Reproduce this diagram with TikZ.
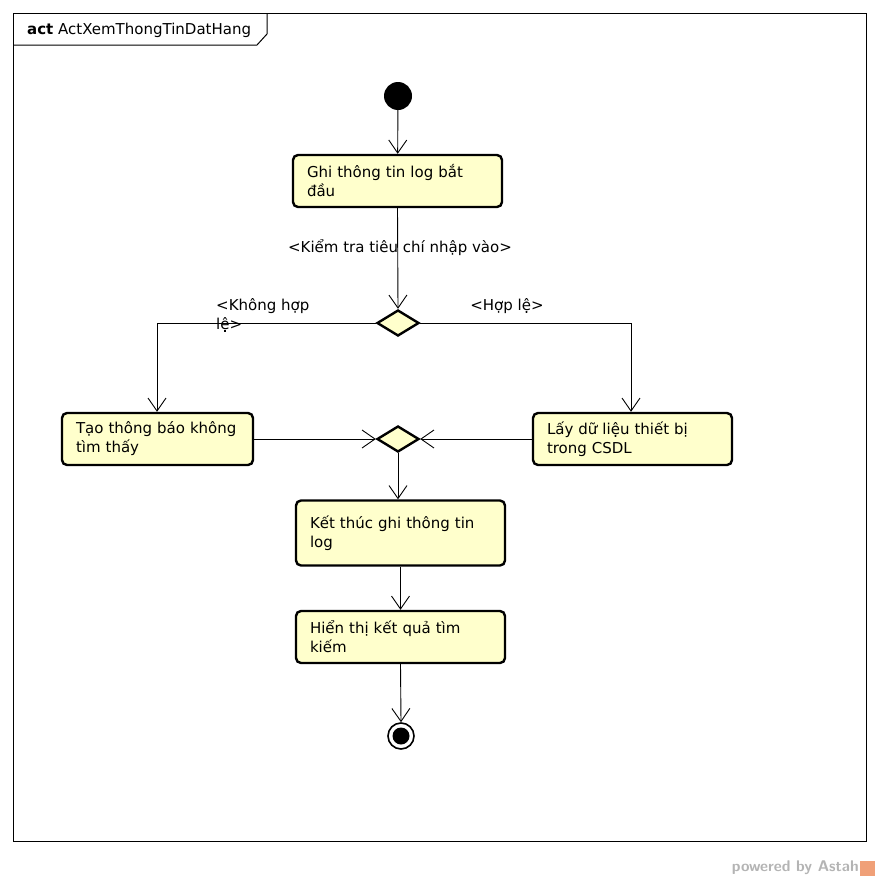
\documentclass[tikz,border=0pt]{standalone}
\usepackage{fontspec}
\setmainfont{DejaVu Sans}
\usetikzlibrary{arrows.meta,shapes.geometric}
\definecolor{actfill}{HTML}{FFFFCC}
\definecolor{astahgray}{HTML}{B4B4B4}
\definecolor{astahorange}{HTML}{F0A078}
\newcommand\diagfont{\fontsize{15}{19}\selectfont}
\tikzset{
  actbox/.style={draw=black, line width=2.4pt, fill=actfill, rounded corners=5pt,
    inner xsep=14pt, inner ysep=0pt, align=left, font=\diagfont},
  decis/.style={draw=black, line width=2.4pt, fill=actfill, diamond, inner sep=0pt,
    minimum width=42pt, minimum height=26pt},
  flow/.style={line width=0.9pt, -{Straight Barb[length=13pt,width=18pt,line width=0.9pt]}},
  lbl/.style={font=\diagfont, inner sep=0pt},
}
\begin{document}
\begin{tikzpicture}[x=1pt,y=-1pt]
\useasboundingbox (0,0) rectangle (880,881);
\fill[white] (0,0) rectangle (880,881);
% frame
\draw[line width=1pt] (13,13) rectangle (866,841);
\draw[line width=1pt] (13,45) -- (257,45) -- (267,34) -- (267,13);
\node[anchor=west, lbl] (title) at (27,30) {\textbf{act} ActXemThongTinDatHang};
% start
\node[circle, fill=black, minimum size=28pt, inner sep=0pt] (start) at (398,96) {};
% boxes
\node[actbox, minimum width=209pt, minimum height=52pt, text width=181pt] (b1) at (397.5,181) {Ghi thông tin log bắt\\đầu};
\node[decis] (d1) at (398,323) {};
\node[actbox, minimum width=191pt, minimum height=52pt, text width=163pt] (b2) at (157.5,439) {Tạo thông báo không\\tìm thấy};
\node[actbox, minimum width=199pt, minimum height=52pt, text width=171pt] (b3) at (632.5,439) {Lấy dữ liệu thiết bị\\trong CSDL};
\node[decis] (d2) at (398,439) {};
\node[actbox, minimum width=209pt, minimum height=65pt, text width=181pt] (b4) at (400.5,533) {Kết thúc ghi thông tin\\log};
\node[actbox, minimum width=209pt, minimum height=52pt, text width=181pt] (b5) at (400.5,637) {Hiển thị kết quả tìm\\kiếm};
% final
\node[circle, draw=black, line width=1.6pt, fill=white, minimum size=26pt, inner sep=0pt] (fin) at (401,736) {};
\node[circle, fill=black, minimum size=17pt, inner sep=0pt] (finin) at (fin) {};
% connectors
\draw[flow] (start) -- (b1);
\draw[flow] (b1.south) -- (d1.north);
\coordinate (cl) at (157,323);
\coordinate (cr) at (631,323);
\draw[flow] (d1.west) -- (cl) -- (b2.north -| cl);
\draw[flow] (d1.east) -- (cr) -- (b3.north -| cr);
\draw[flow] (b2.east) -- (d2.west);
\draw[flow] (b3.west) -- (d2.east);
\draw[flow] (d2.south) -- (b4.north -| d2.south);
\draw[flow] (b4.south) -- (b5.north);
\draw[flow] (b5.south) -- (fin.north);
% labels
\node[lbl] (g1) at (400,248) {<Kiểm tra tiêu chí nhập vào>};
\node[lbl, anchor=north west, align=left] (g2) at (216,298) {<Không hợp\\lệ>};
\node[lbl] (g3) at (507,306) {<Hợp lệ>};
% watermark
\node[anchor=east, inner sep=0pt, text=astahgray, font=\fontsize{15.5}{17}\sffamily\bfseries] (wm) at (859,868) {powered by Astah};
\fill[astahorange] (860,861) rectangle (875,876);
\end{tikzpicture}
\end{document}
